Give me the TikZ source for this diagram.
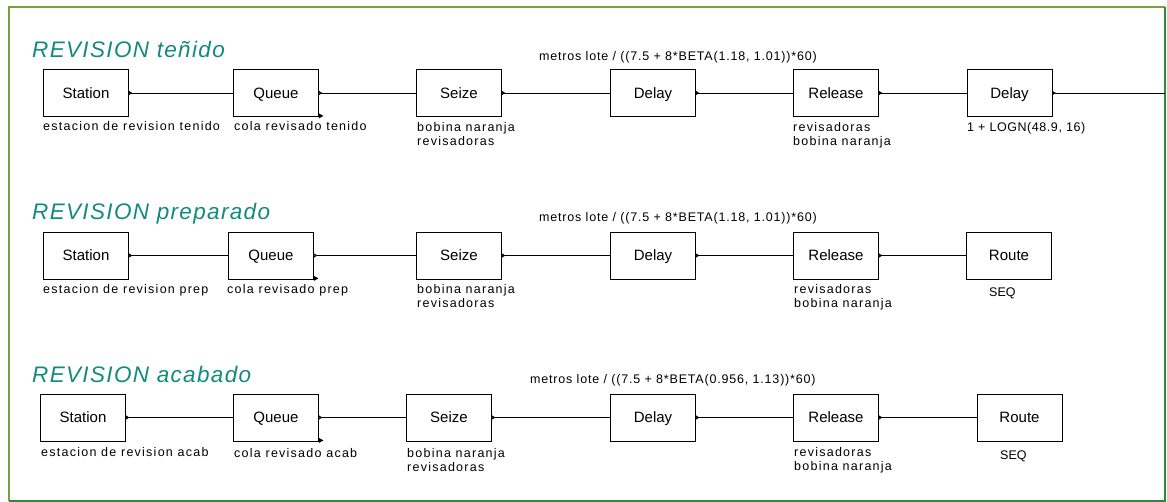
\documentclass[tikz,border=0pt]{standalone}
\usepackage{fontspec}
\setmainfont{Liberation Sans}
\usetikzlibrary{arrows.meta}
\newfontfamily\lblfont[LetterSpace=10]{Liberation Sans}
\newfontfamily\exprfont[LetterSpace=6.5]{Liberation Sans}
\newfontfamily\tightfont[LetterSpace=4.5]{Liberation Sans}
\newfontfamily\titlefont[LetterSpace=6]{Liberation Sans}
\definecolor{titleteal}{HTML}{138A80}
\definecolor{frameolive}{HTML}{76A040}
\definecolor{framegreen}{HTML}{2E8B3A}

\begin{document}
\begin{tikzpicture}[x=1pt,y=-1pt,
  block/.style={draw, line width=0.8pt, minimum width=85pt, minimum height=47pt,
    inner sep=0pt, text height=10.7pt, text depth=0pt,
    font=\fontsize{15}{18}\selectfont},
  note/.style={inner sep=0pt, anchor=base west, align=left,
    font=\lblfont\fontsize{12.5}{14}\selectfont},
  expr/.style={inner sep=0pt, anchor=base west,
    font=\exprfont\fontsize{12.5}{14}\selectfont},
  plain/.style={inner sep=0pt, anchor=base west,
    font=\fontsize{12.5}{14}\selectfont},
  lognote/.style={inner sep=0pt, anchor=base west,
    font=\tightfont\fontsize{12.5}{14}\selectfont},
  heading/.style={inner sep=0pt, anchor=base west, text=titleteal,
    font=\titlefont\itshape\fontsize{22.5}{26}\selectfont},
  link/.style={line width=0.8pt, {Triangle[width=4pt,length=3.5pt,reversed]}-},
  qlink/.style={line width=0.8pt, {Triangle[open,width=4pt,length=3.5pt,reversed]}-},
]
\useasboundingbox (0,0) rectangle (1167,502);

% frame
\draw[frameolive, line width=2.2pt] (9,501) -- (9,7) -- (1165,7);
\draw[framegreen, line width=1.5pt] (1165,7) -- (1165,501) -- (9,501);

% ---------- REVISION tenido ----------
\node[heading] (h1) at (32,58) {REVISION teñido};
\node[expr] (x1) at (539,61) {metros lote / ((7.5 + 8*BETA(1.18, 1.01))*60)};
\node[block] (s1) at (86,93) {Station};
\node[block] (q1) at (276,93) {Queue};
\node[block] (z1) at (459,93) {Seize};
\node[block] (d1) at (653,93) {Delay};
\node[block] (r1) at (836,93) {Release};
\node[block] (e1) at (1009.5,93) {Delay};
\coordinate (o1) at (1165,93);
\node[note] (ls1) at (43,131) {estacion de revision tenido};
\node[note] (lq1) at (234,131) {cola revisado tenido};
\node[note] (lz1) at (417,145.5) {bobina naranja\\revisadoras};
\node[note] (lr1) at (793,145.5) {revisadoras\\bobina naranja};
\node[lognote] (le1) at (967,131.5) {1 + LOGN(48.9, 16)};
\draw[link] (s1.east) -- (q1.west);
\draw[qlink] (q1.east) -- (z1.west);
\draw[link] (z1.east) -- (d1.west);
\draw[link] (d1.east) -- (r1.west);
\draw[link] (r1.east) -- (e1.west);
\draw[link] (e1.east) -- (o1);
\fill[shift={(q1.south east)}] (0,-3.5) -- (4.5,-1) -- (0,1.5) -- cycle;

% ---------- REVISION preparado ----------
\node[heading] (h2) at (32,220) {REVISION preparado};
\node[expr] (x2) at (539,222) {metros lote / ((7.5 + 8*BETA(1.18, 1.01))*60)};
\node[block] (s2) at (86,255.5) {Station};
\node[block] (q2) at (271,255.5) {Queue};
\node[block] (z2) at (459,255.5) {Seize};
\node[block] (d2) at (653,255.5) {Delay};
\node[block] (r2) at (836,255.5) {Release};
\node[block] (t2) at (1009,255.5) {Route};
\node[note] (ls2) at (43,294) {estacion de revision prep};
\node[note] (lq2) at (227,294) {cola revisado prep};
\node[note] (lz2) at (417,308) {bobina naranja\\revisadoras};
\node[note] (lr2) at (794,308) {revisadoras\\bobina naranja};
\node[plain] (lt2) at (989,297) {SEQ};
\draw[link] (s2.east) -- (q2.west);
\draw[qlink] (q2.east) -- (z2.west);
\draw[link] (z2.east) -- (d2.west);
\draw[link] (d2.east) -- (r2.west);
\draw[link] (r2.east) -- (t2.west);
\fill[shift={(q2.south east)}] (0,-3.5) -- (4.5,-1) -- (0,1.5) -- cycle;

% ---------- REVISION acabado ----------
\node[heading] (h3) at (32,383) {REVISION acabado};
\node[expr] (x3) at (530,384) {metros lote / ((7.5 + 8*BETA(0.956, 1.13))*60)};
\node[block] (s3) at (83,417.5) {Station};
\node[block] (q3) at (276,417.5) {Queue};
\node[block] (z3) at (449,417.5) {Seize};
\node[block] (d3) at (653,417.5) {Delay};
\node[block] (r3) at (836,417.5) {Release};
\node[block] (t3) at (1019.5,417.5) {Route};
\node[note] (ls3) at (41,456) {estacion de revision acab};
\node[note] (lq3) at (234,457) {cola revisado acab};
\node[note] (lz3) at (407,471) {bobina naranja\\revisadoras};
\node[note] (lr3) at (794,470.5) {revisadoras\\bobina naranja};
\node[plain] (lt3) at (1000,459) {SEQ};
\draw[link] (s3.east) -- (q3.west);
\draw[qlink] (q3.east) -- (z3.west);
\draw[link] (z3.east) -- (d3.west);
\draw[link] (d3.east) -- (r3.west);
\draw[link] (r3.east) -- (t3.west);
\fill[shift={(q3.south east)}] (0,-3.5) -- (4.5,-1) -- (0,1.5) -- cycle;
\end{tikzpicture}
\end{document}
